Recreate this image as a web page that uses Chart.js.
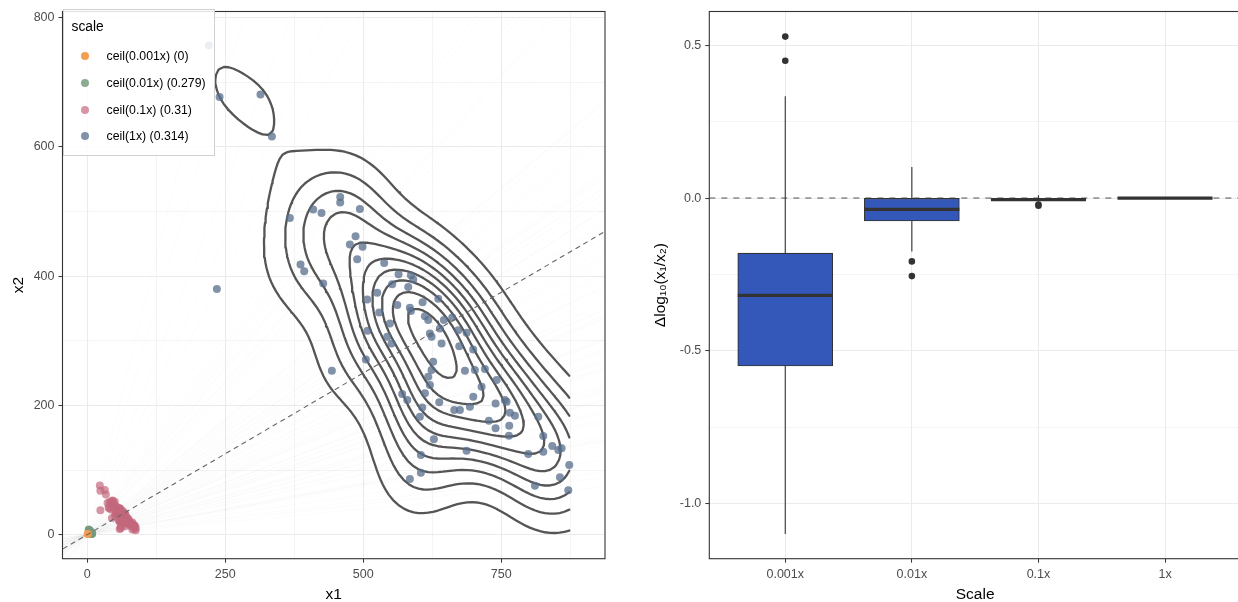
<!DOCTYPE html>
<html>
<head>
<meta charset="utf-8">
<script src="https://cdn.jsdelivr.net/npm/chart.js@4.4.1/dist/chart.umd.min.js"></script>
<style>
  body { margin: 0; width: 1238px; height: 602px; overflow: hidden; background: #fff; position: relative;
         font-family: 'Liberation Sans', Arial, sans-serif; }
  #left  { position: absolute; left: 0; top: 0; }
  #right { position: absolute; left: 620px; top: 0; }
  #legend { position: absolute; left: 62.5px; top: 9px; width: 152px; height: 147px; box-sizing: border-box;
            background: rgba(255,255,255,0.85); border: 1px solid #d0d0d0; }
  .leg-title { position: absolute; left: 8px; top: 9px; font-size: 13.8px; color: #000; }
  .leg-item  { position: absolute; left: 0; height: 14px; line-height: 14px; font-size: 12.3px; color: #000; white-space: nowrap; }
  .leg-dot   { position: absolute; left: 17.5px; top: 3px; width: 8px; height: 8px; border-radius: 50%; }
  .leg-text  { position: absolute; left: 43px; top: 0; }
</style>
</head>
<body>
<canvas id="left" width="620" height="602"></canvas>
<canvas id="right" width="625" height="602"></canvas>
<div id="legend"></div>

<script>
// ============================================================
// data — left panel: x1 / x2 per rounding scale
// ============================================================
const x1Scale1 = [
  220.5, 239.9, 314, 334.6, 235,
  367.2, 409.5, 424.6, 458.4, 458.4, 494, 486.2, 475.9, 498.9, 489.2, 386.5, 393.2, 427.6, 538.1, 564.1, 586.4, 590.7, 552.6, 581.6, 507.3, 525.4, 607.6, 636,
  529.1, 561.7, 584.6, 586.4, 507.9, 548.4, 543.5, 551.4, 504.9, 443.3,
  611.8, 617.8, 646.2, 661.3, 638.9, 620.8, 623.9, 672.2, 687.3, 642, 674, 699.3, 626.8, 623.9, 617.8, 620.8, 684.3, 702.3, 720.5, 741.7, 714.5,
  611.8, 570.7, 579.8, 699.4, 607, 602.7, 637.8, 664.9, 675.2, 693.3, 739.8, 756.7, 759.8, 765.8, 774.9, 764.6, 727.7, 739.8, 764, 817.2,
  826.2, 842.5, 853.4, 859.4, 628.1, 687.3, 604.5, 799, 826.2, 873.3, 604.5, 584.6, 856.4, 811.1, 871.5
];
const x2Scale1 = [
  757, 677, 681, 616, 380,
  490, 502.9, 497.7, 522.4, 513.7, 503.9, 461.6, 448.8, 445.2, 426.1, 417.9, 407.6, 388.5, 420.4, 402.9, 401.4, 394.7, 387.5, 383.3, 363.8, 374.1, 359.6, 364.8,
  343.7, 355.1, 351, 345.8, 315.4, 326.7, 306.1, 295.8, 271.1, 253.6,
  338, 331.9, 331.9, 336, 319, 311.3, 306, 316.4, 312.2, 295.8, 291.6, 286.5, 267.4, 254.6, 244.2, 231.4, 253.5, 254.6, 256.1, 239.1, 228.8,
  218.6, 217.6, 208.3, 213.4, 196.9, 182.5, 204.7, 192.8, 192.8, 198, 203.1, 208.3, 205.6, 188.7, 184.1, 168.6, 176.4, 164.5, 153.2, 182.5,
  152.7, 137.2, 131, 133.6, 147.5, 130, 123.3, 124.9, 128.5, 107.9, 96, 86.2, 88.8, 75.9, 68.7
];
const x1Scale01 = [
  23, 24, 32, 34, 24,
  37, 41, 43, 46, 46, 50, 49, 48, 50, 49, 39, 40, 43, 54, 57, 59, 60, 56, 59, 51, 53, 61, 64,
  53, 57, 59, 59, 51, 55, 55, 56, 51, 45,
  62, 62, 65, 67, 64, 63, 63, 68, 69, 65, 68, 70, 63, 63, 62, 63, 69, 71, 73, 75, 72,
  62, 58, 58, 70, 61, 61, 64, 67, 68, 70, 74, 76, 76, 77, 78, 77, 73, 74, 77, 82,
  83, 85, 86, 86, 63, 69, 61, 80, 83, 88, 61, 59, 86, 82, 88
];
const x2Scale01 = [
  76, 68, 69, 62, 38,
  49, 51, 50, 53, 52, 51, 47, 45, 45, 43, 42, 41, 39, 43, 41, 41, 40, 39, 39, 37, 38, 36, 37,
  35, 36, 36, 35, 32, 33, 31, 30, 28, 26,
  34, 34, 34, 34, 32, 32, 31, 32, 32, 30, 30, 29, 27, 26, 25, 24, 26, 26, 26, 24, 23,
  22, 22, 21, 22, 20, 19, 21, 20, 20, 20, 21, 21, 21, 19, 19, 17, 18, 17, 16, 19,
  16, 14, 14, 14, 15, 13, 13, 13, 13, 11, 10, 9, 9, 8, 7
];
const x1Scale001 = [3, 3, 4, 3, 4, 5, 5, 5, 6, 6, 7, 6, 5, 7, 8, 7, 8, 9, 7, 6, 9];
const x2Scale001 = [8, 7, 7, 4, 5, 6, 5, 4, 5, 4, 4, 3, 3, 3, 3, 2, 2, 2, 1, 1, 1];
const x1Scale0001 = [1];
const x2Scale0001 = [1];

const legendLabels = ['ceil(0.001x) (0)', 'ceil(0.01x) (0.279)', 'ceil(0.1x) (0.31)', 'ceil(1x) (0.314)'];
const refSlope = 0.5;

const xTicks = [0, 250, 500, 750];
const xMinor = [125, 375, 625, 875];
const yTicks = [0, 200, 400, 600, 800];
const yMinor = [100, 300, 500, 700];

// ============================================================
// data — right panel: Δlog10(x1/x2) boxplots
// ============================================================
const scaleLabels = ['0.001x', '0.01x', '0.1x', '1x'];
const whiskerLow  = [-1.098, -0.175, -0.012, 0];
const boxQ1       = [-0.549, -0.075, -0.007, 0];
const boxMedian   = [-0.318, -0.037, -0.005, 0];
const boxQ3       = [-0.180, -0.001, -0.003, 0];
const whiskerHigh = [0.333, 0.102, 0.009, 0];
const outliers    = [[0.528, 0.449], [-0.207, -0.255], [-0.021, -0.025], []];

const dTicks = [-1, -0.5, 0, 0.5];
const dMinor = [-0.75, -0.25, 0.25];

// ── estilos ─────────────────────────────────────────────────
const FONT       = "'Liberation Sans', Arial, sans-serif";
const TICK_FONT  = { family: FONT, size: 12.5 };
const TITLE_FONT = { family: FONT, size: 15.5 };
const TICK_COLOR = '#4D4D4D';
const GRID_COLOR = '#EBEBEB';
const COLORS = ['rgba(245,158,80,1)', 'rgba(118,155,126,0.85)', 'rgba(195,104,126,0.7)', 'rgba(90,110,140,0.76)'];
const BOX_WIDTH = 0.75;   // largura da caixa, em unidades do eixo discreto

const pts = (xs, ys) => xs.map((x, i) => ({ x, y: ys[i] }));

// ── helpers de eixo (grade maior + menor) ─────────────────────
function axisOpts(major, minor, min, max, fmtLabel, title, titlePad, fitKey, fitVal) {
  const all = major.concat(minor).sort((a, b) => a - b);
  const isMajor = v => major.includes(v);
  return {
    type: 'linear', min, max, offset: false,
    afterBuildTicks: s => { s.ticks = all.map(v => ({ value: v })); },
    afterFit: s => { s[fitKey] = fitVal; },
    ticks: { font: TICK_FONT, color: TICK_COLOR, padding: 4, autoSkip: false, maxRotation: 0,
             callback: v => isMajor(v) ? fmtLabel(v) : '' },
    grid: {
      offset: false,
      color: GRID_COLOR,
      lineWidth: c => c.tick && isMajor(c.tick.value) ? 1.07 : 0.55,
      tickColor: c => c.tick && isMajor(c.tick.value) ? '#333' : 'rgba(0,0,0,0)',
      tickLength: 4, tickWidth: 1,
    },
    border: { display: false },
    title: { display: true, text: title, font: TITLE_FONT, color: '#000', padding: titlePad },
  };
}

const panelBorder = {
  id: 'panelBorder',
  afterDraw(chart) {
    const { ctx, chartArea: a } = chart;
    ctx.save();
    ctx.strokeStyle = '#333';
    ctx.lineWidth = 1.1;
    ctx.strokeRect(a.left, a.top, a.right - a.left, a.bottom - a.top);
    ctx.restore();
  },
};

// ============================================================
// densidade 2d (kde2d, como o stat_density_2d) + contornos
// ============================================================
function quantile7(sorted, p) {
  const h = (sorted.length - 1) * p, lo = Math.floor(h);
  return sorted[lo] + (h - lo) * ((sorted[lo + 1] ?? sorted[lo]) - sorted[lo]);
}
function bandwidthNrd(v) {
  const s = [...v].sort((a, b) => a - b);
  const n = v.length, mean = v.reduce((a, b) => a + b, 0) / n;
  const sd = Math.sqrt(v.reduce((a, b) => a + (b - mean) ** 2, 0) / (n - 1));
  const iqr = (quantile7(s, 0.75) - quantile7(s, 0.25)) / 1.34;
  return 4 * 1.06 * Math.min(sd, iqr) * Math.pow(n, -0.2);
}
function kde2d(xs, ys, lims, n) {
  const hx = bandwidthNrd(xs) / 4, hy = bandwidthNrd(ys) / 4;
  const gx = [], gy = [];
  for (let i = 0; i < n; i++) {
    gx.push(lims[0] + (lims[1] - lims[0]) * i / (n - 1));
    gy.push(lims[2] + (lims[3] - lims[2]) * i / (n - 1));
  }
  const dn = u => Math.exp(-0.5 * u * u) / Math.sqrt(2 * Math.PI);
  const ax = gx.map(g => xs.map(x => dn((g - x) / hx)));
  const ay = gy.map(g => ys.map(y => dn((g - y) / hy)));
  const z = gx.map((_, i) => gy.map((_, j) => {
    let s = 0;
    for (let k = 0; k < xs.length; k++) s += ax[i][k] * ay[j][k];
    return s / (xs.length * hx * hy);
  }));
  return { gx, gy, z };
}
function pretty(lo, hi, n) {
  const cell = (hi - lo) / n;
  const U = Math.pow(10, Math.floor(Math.log10(cell)));
  let unit = U;
  if (2 * U - cell < 1.5 * (cell - unit)) {
    unit = 2 * U;
    if (5 * U - cell < 2.75 * (cell - unit)) {
      unit = 5 * U;
      if (10 * U - cell < 1.5 * (cell - unit)) unit = 10 * U;
    }
  }
  const out = [];
  for (let v = Math.floor(lo / unit); v <= Math.ceil(hi / unit); v++) out.push(v * unit);
  return out;
}
function contourLines({ gx, gy, z }, lev) {
  const n = gx.length, pos = new Map(), segs = [];
  const cross = (a, b) => (a >= lev) !== (b >= lev);
  const edge = (key, x0, y0, x1, y1, z0, z1) => {
    if (!pos.has(key)) { const t = (lev - z0) / (z1 - z0); pos.set(key, { x: x0 + t * (x1 - x0), y: y0 + t * (y1 - y0) }); }
    return key;
  };
  for (let i = 0; i < n - 1; i++) for (let j = 0; j < n - 1; j++) {
    const z00 = z[i][j], z10 = z[i + 1][j], z11 = z[i + 1][j + 1], z01 = z[i][j + 1];
    const e = {};
    if (cross(z00, z10)) e.b = edge(`h${i}_${j}`, gx[i], gy[j], gx[i + 1], gy[j], z00, z10);
    if (cross(z10, z11)) e.r = edge(`v${i + 1}_${j}`, gx[i + 1], gy[j], gx[i + 1], gy[j + 1], z10, z11);
    if (cross(z01, z11)) e.t = edge(`h${i}_${j + 1}`, gx[i], gy[j + 1], gx[i + 1], gy[j + 1], z01, z11);
    if (cross(z00, z01)) e.l = edge(`v${i}_${j}`, gx[i], gy[j], gx[i], gy[j + 1], z00, z01);
    const ks = Object.keys(e);
    if (ks.length === 2) segs.push([e[ks[0]], e[ks[1]]]);
    else if (ks.length === 4) {
      const c = (z00 + z10 + z11 + z01) / 4 >= lev;
      if ((z00 >= lev) !== c) segs.push([e.l, e.b]);
      if ((z10 >= lev) !== c) segs.push([e.b, e.r]);
      if ((z11 >= lev) !== c) segs.push([e.r, e.t]);
      if ((z01 >= lev) !== c) segs.push([e.t, e.l]);
    }
  }
  const adj = new Map();
  segs.forEach((s, k) => s.forEach(key => { if (!adj.has(key)) adj.set(key, []); adj.get(key).push(k); }));
  const used = new Array(segs.length).fill(false), lines = [];
  const starts = [...adj.keys()].filter(k => adj.get(k).length === 1).concat([...adj.keys()]);
  for (const e0 of starts) {
    for (const k0 of adj.get(e0)) {
      if (used[k0]) continue;
      const path = [e0];
      let e = e0, k = k0;
      while (k !== undefined && !used[k]) {
        used[k] = true;
        e = segs[k][0] === e ? segs[k][1] : segs[k][0];
        path.push(e);
        k = adj.get(e).find(m => !used[m]);
      }
      lines.push(path.map(key => pos.get(key)));
    }
  }
  return lines;
}

// ── contornos da escala 1x, grade nos limites dos dados ─────────
const allX = [...x1Scale1, ...x1Scale01, ...x1Scale001, ...x1Scale0001];
const allY = [...x2Scale1, ...x2Scale01, ...x2Scale001, ...x2Scale0001];
const dens = kde2d(x1Scale1, x2Scale1, [Math.min(...allX), Math.max(...allX), Math.min(...allY), Math.max(...allY)], 100);
const zFlat = dens.z.flat();
const zMin = Math.min(...zFlat), zMax = Math.max(...zFlat);
const levels = pretty(zMin, zMax, 10).filter(l => l > zMin && l < zMax);
const contourData = [];
levels.forEach(l => contourLines(dens, l).forEach(line => { contourData.push(...line, { x: null, y: null }); }));

// ── leque de retas pela origem (uma por ponto) + referência ──────
const fanData = [];
x1Scale1.forEach((x, i) => {
  const s = x2Scale1[i] / x;
  fanData.push({ x: -100, y: -100 * s }, { x: 1000, y: 1000 * s }, { x: null, y: null });
});

// ============================================================
// painel esquerdo
// ============================================================
new Chart(document.getElementById('left'), {
  type: 'scatter',
  data: {
    datasets: [
      { data: fanData, showLine: true, borderColor: 'rgba(0,0,0,0.016)', borderWidth: 1, pointRadius: 0, spanGaps: false, order: 10 },
      { data: contourData, showLine: true, borderColor: '#555', borderWidth: 2.3, pointRadius: 0, spanGaps: false,
        borderCapStyle: 'round', borderJoinStyle: 'round', order: 8 },
      { data: pts(x1Scale1, x2Scale1),       backgroundColor: COLORS[3], borderWidth: 0, pointRadius: 4, order: 6 },
      { data: pts(x1Scale01, x2Scale01),     backgroundColor: COLORS[2], borderWidth: 0, pointRadius: 4, order: 5 },
      { data: pts(x1Scale001, x2Scale001),   backgroundColor: COLORS[1], borderWidth: 0, pointRadius: 4, order: 4 },
      { data: pts(x1Scale0001, x2Scale0001), backgroundColor: COLORS[0], borderWidth: 0, pointRadius: 4, order: 3 },
      { data: [{ x: -100, y: -100 * refSlope }, { x: 1000, y: 1000 * refSlope }], showLine: true,
        borderColor: '#666', borderWidth: 1.1, borderDash: [5, 4], pointRadius: 0, order: 1 },
    ],
  },
  options: {
    responsive: false, animation: false, events: [],
    layout: { padding: { left: 0, top: 11.3, right: 15, bottom: 0 } },
    plugins: { legend: { display: false }, tooltip: { enabled: false } },
    scales: {
      x: axisOpts(xTicks, xMinor, -44.6, 938, v => String(v), 'x1', { top: 0, bottom: -2 }, 'height', 43.3),
      y: axisOpts(yTicks, yMinor, -37.1, 809.2, v => String(v), 'x2', { top: 9, bottom: 0 }, 'width', 62.5),
    },
  },
  plugins: [panelBorder],
});

document.getElementById('legend').innerHTML =
  '<div class="leg-title">scale</div>' +
  legendLabels.map((l, i) =>
    `<div class="leg-item" style="top:${39.3 + i * 26.6}px"><div class="leg-dot" style="background:${COLORS[i]}"></div><span class="leg-text">${l}</span></div>`
  ).join('');

// ============================================================
// painel direito — boxplots
// ============================================================
const whiskerData = [], medianData = [], outlierData = [];
scaleLabels.forEach((_, i) => {
  whiskerData.push({ x: i + 1, y: whiskerLow[i] }, { x: i + 1, y: whiskerHigh[i] }, { x: null, y: null });
  medianData.push({ x: i + 1 - BOX_WIDTH / 2, y: boxMedian[i] }, { x: i + 1 + BOX_WIDTH / 2, y: boxMedian[i] }, { x: null, y: null });
  outliers[i].forEach(v => outlierData.push({ x: i + 1, y: v }));
});

new Chart(document.getElementById('right'), {
  type: 'bar',
  data: {
    datasets: [
      { type: 'scatter', data: [{ x: 0.4, y: 0 }, { x: 4.6, y: 0 }], showLine: true, borderColor: '#888',
        borderWidth: 1.5, borderDash: [6, 6], pointRadius: 0, order: 10 },
      { type: 'scatter', data: whiskerData, showLine: true, borderColor: '#333', borderWidth: 1.1,
        pointRadius: 0, spanGaps: false, order: 9 },
      { type: 'bar', data: scaleLabels.map((_, i) => ({ x: i + 1, y: [boxQ1[i], boxQ3[i]] })),
        backgroundColor: '#3458B9', borderColor: '#333', borderWidth: 1.1, borderSkipped: false,
        barThickness: 95, grouped: false, order: 8 },
      { type: 'scatter', data: medianData, showLine: true, borderColor: '#333', borderWidth: 3.2,
        borderCapStyle: 'butt', pointRadius: 0, spanGaps: false, order: 7 },
      { type: 'scatter', data: outlierData, pointRadius: 3.3, backgroundColor: '#333', borderWidth: 0, order: 6 },
    ],
  },
  options: {
    responsive: false, animation: false, events: [],
    layout: { padding: { left: 0, top: 11.3, right: 3.5, bottom: 0 } },
    plugins: { legend: { display: false }, tooltip: { enabled: false } },
    scales: {
      x: axisOpts([1, 2, 3, 4], [], 0.4, 4.6, v => scaleLabels[v - 1], 'Scale', { top: 0, bottom: -2 }, 'height', 43.3),
      y: axisOpts(dTicks, dMinor, -1.179, 0.61, v => v.toFixed(1), 'Δlog₁₀(x₁/x₂)', { top: 31, bottom: 0 }, 'width', 89.3),
    },
  },
  plugins: [panelBorder],
});
</script>
</body>
</html>
